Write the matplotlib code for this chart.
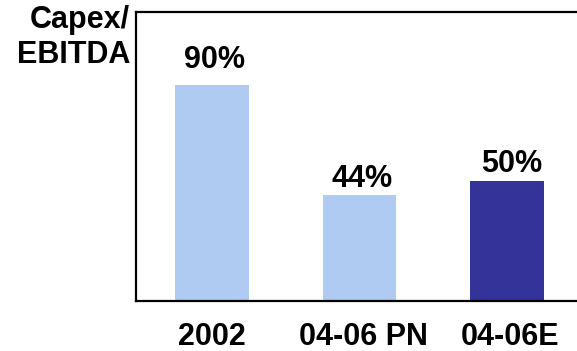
import matplotlib
matplotlib.use("Agg")
import matplotlib.pyplot as plt
from matplotlib.transforms import ScaledTranslation

categories = ["2002", "04-06 PN", "04-06E"]
values = [90, 44, 50]
value_labels = ["90%", "44%", "50%"]
bar_colors = ["#AFCBF1", "#AFCBF1", "#333399"]
label_gap_pt = [12.2, 5.8, 6.5]
label_shift_pt = [2, 2, 3.5]
tick_shift_pt = [0, 3, 2.5]

plt.rcParams["font.family"] = ["Liberation Sans", "DejaVu Sans"]
plt.rcParams["font.weight"] = "bold"

fig = plt.figure(figsize=(5.77, 3.51), dpi=100)
ax = fig.add_axes([136 / 577, 50 / 351, 474 / 577, 289 / 351])

x = range(len(categories))
bars = ax.bar(x, values, width=0.5, color=bar_colors, zorder=2)

for rect, lab, gap, dx in zip(bars, value_labels, label_gap_pt, label_shift_pt):
    ax.annotate(lab, (rect.get_x() + rect.get_width() / 2, rect.get_height()),
                xytext=(dx, gap), textcoords="offset points",
                ha="center", va="baseline", fontsize=22, fontweight="bold")

ax.set_xlim(-0.515, 2.7)
ax.set_ylim(0, 120.4)
ax.set_yticks([])
ax.set_xticks(list(x))
ax.set_xticklabels(categories, fontsize=22, fontweight="bold")
ax.tick_params(axis="x", length=0, pad=15)
for tl, dx in zip(ax.get_xticklabels(), tick_shift_pt):
    tl.set_transform(tl.get_transform() + ScaledTranslation(dx / 72, 0, fig.dpi_scale_trans))

for side in ("left", "bottom", "top"):
    ax.spines[side].set_linewidth(1.6)
    ax.spines[side].set_color("black")
ax.spines["right"].set_visible(False)

fig.text(130 / 577, 1 - 5 / 351, "Capex/\nEBITDA", ha="right", va="top",
         fontsize=22, fontweight="bold", linespacing=1.2)

fig.savefig("out.png", dpi=100)
